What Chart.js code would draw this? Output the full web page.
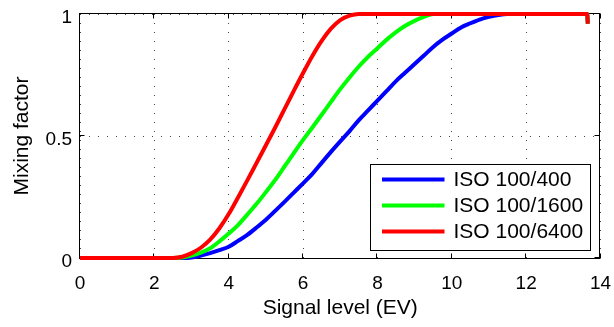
<!DOCTYPE html>
<html>
<head>
<meta charset="utf-8">
<script src="https://cdn.jsdelivr.net/npm/chart.js@4/dist/chart.umd.min.js"></script>
<style>
  html, body { margin: 0; padding: 0; background: #fff; }
  #wrap { width: 614px; height: 327px; }
</style>
</head>
<body>
<div id="wrap"><canvas id="c" width="614" height="327"></canvas></div>
<script>
// ---- data ----
const evLevels = [0, 2.5, 2.75, 3, 3.25, 3.5, 3.75, 4, 4.25, 4.5, 4.75, 5, 5.25, 5.5, 5.75, 6, 6.25, 6.5, 6.75, 7, 7.25, 7.5, 7.75, 8, 8.25, 8.5, 8.75, 9, 9.25, 9.5, 9.75, 10, 10.25, 10.5, 10.75, 11, 11.25, 11.5, 11.75, 13.64, 13.66];
const iso400 = [0, 0, 0, 0.002, 0.01, 0.02, 0.032, 0.046, 0.07, 0.095, 0.125, 0.157, 0.193, 0.23, 0.268, 0.306, 0.345, 0.39, 0.435, 0.478, 0.52, 0.565, 0.605, 0.645, 0.685, 0.725, 0.76, 0.795, 0.83, 0.865, 0.895, 0.92, 0.945, 0.962, 0.977, 0.988, 0.996, 1, 1, 1, 0.96];
const iso1600 = [0, 0, 0.002, 0.01, 0.022, 0.04, 0.068, 0.10, 0.135, 0.178, 0.222, 0.27, 0.32, 0.375, 0.43, 0.484, 0.535, 0.587, 0.64, 0.692, 0.74, 0.785, 0.825, 0.86, 0.895, 0.926, 0.952, 0.972, 0.988, 1, 1, 1, 1, 1, 1, 1, 1, 1, 1, 1, 0.96];
const iso6400 = [0, 0, 0.005, 0.02, 0.042, 0.075, 0.122, 0.18, 0.248, 0.318, 0.39, 0.462, 0.535, 0.61, 0.685, 0.758, 0.828, 0.89, 0.94, 0.975, 0.993, 1, 1, 1, 1, 1, 1, 1, 1, 1, 1, 1, 1, 1, 1, 1, 1, 1, 1, 1, 0.96];
const seriesLabels = ['ISO 100/400', 'ISO 100/1600', 'ISO 100/6400'];
const seriesColors = ['#0000ff', '#00ff00', '#ff0000'];
const xTicks = [0, 2, 4, 6, 8, 10, 12, 14];
const yTicks = [0, 0.5, 1];
const yTickLabels = ['0', '0.5', '1'];
const xTitle = 'Signal level (EV)';
const yTitle = 'Mixing factor';

const FONT = "'Liberation Sans', Arial, sans-serif";
const toPts = arr => arr.map((v, i) => ({ x: evLevels[i], y: v }));
const allSeries = [iso400, iso1600, iso6400];

const frame = {
  id: 'frame',
  beforeDatasetsDraw(chart) {
    const { ctx, chartArea: a, scales: { x, y } } = chart;
    const L = Math.floor(a.left) - 0.5, R = Math.floor(a.right) - 0.5;
    const T = Math.floor(a.top) - 0.5, B = Math.floor(a.bottom) + 0.5;
    ctx.save();
    ctx.strokeStyle = '#000';
    ctx.lineWidth = 1;
    ctx.strokeRect(L, T, R - L, B - T);
    const tl = 5;
    ctx.beginPath();
    xTicks.forEach(v => {
      const px = Math.round(x.getPixelForValue(v)) - 0.5;
      ctx.moveTo(px, B); ctx.lineTo(px, B - tl);
      ctx.moveTo(px, T); ctx.lineTo(px, T + tl);
    });
    yTicks.forEach(v => {
      const py = Math.round(y.getPixelForValue(v)) - 0.5;
      ctx.moveTo(L, py); ctx.lineTo(L + tl, py);
      ctx.moveTo(R, py); ctx.lineTo(R - tl, py);
    });
    ctx.stroke();
    ctx.restore();
  }
};

const legendBox = {
  id: 'legendBox',
  afterDatasetsDraw(chart) {
    const { ctx, chartArea: a } = chart;
    const w = 220, h = 86;
    const right = Math.floor(a.right) - 9.5;
    const bottom = Math.floor(a.bottom) - 7.5;
    const left = right - w, top = bottom - h;
    ctx.save();
    ctx.fillStyle = '#fff';
    ctx.fillRect(left, top, w, h);
    ctx.strokeStyle = '#000';
    ctx.lineWidth = 1;
    ctx.strokeRect(left, top, w, h);
    ctx.font = '21px ' + FONT;
    ctx.textBaseline = 'middle';
    ctx.textAlign = 'left';
    const rowH = 26;
    const firstY = top + 15;
    seriesLabels.forEach((lab, i) => {
      const yy = firstY + i * rowH;
      ctx.strokeStyle = seriesColors[i];
      ctx.lineWidth = 4;
      ctx.beginPath();
      ctx.moveTo(left + 11.5, yy);
      ctx.lineTo(left + 74, yy);
      ctx.stroke();
      ctx.fillStyle = '#000';
      ctx.fillText(lab, left + 83, yy + 1);
    });
    ctx.restore();
  }
};

new Chart(document.getElementById('c'), {
  type: 'line',
  data: {
    datasets: allSeries.map((s, i) => ({
      label: seriesLabels[i],
      data: toPts(s),
      borderColor: seriesColors[i],
      backgroundColor: seriesColors[i],
      borderWidth: 4,
      pointRadius: 0,
      cubicInterpolationMode: 'monotone',
      borderJoinStyle: 'round',
      clip: false,
      order: 2 - i
    }))
  },
  options: {
    responsive: false,
    animation: false,
    devicePixelRatio: 1,
    layout: { padding: { left: 0, right: 13.5, top: 14, bottom: 0 } },
    plugins: { legend: { display: false }, tooltip: { enabled: false } },
    scales: {
      x: {
        type: 'linear',
        min: 0, max: 14,
        afterBuildTicks: s => { s.ticks = xTicks.map(v => ({ value: v })); },
        afterFit: s => { s.height = 69; s.paddingLeft = 0; s.paddingRight = 0; },
        ticks: { color: '#000', font: { family: FONT, size: 19 }, padding: 14, maxRotation: 0 },
        grid: { color: '#444', lineWidth: 1, drawTicks: false },
        border: { display: false, dash: [1, 8] },
        title: { display: true, text: xTitle, color: '#000', font: { family: FONT, size: 21 }, padding: { top: 0, bottom: 6 } }
      },
      y: {
        type: 'linear',
        min: 0, max: 1,
        afterBuildTicks: s => { s.ticks = yTicks.map(v => ({ value: v })); },
        afterFit: s => { s.width = 80; s.paddingTop = 0; s.paddingBottom = 0; },
        ticks: { color: '#000', font: { family: FONT, size: 19 }, padding: 8, labelOffset: 4, callback: (v) => yTickLabels[yTicks.indexOf(v)] },
        grid: { color: '#444', lineWidth: 1, drawTicks: false },
        border: { display: false, dash: [1, 8] },
        title: { display: true, text: yTitle, color: '#000', font: { family: FONT, size: 21 }, padding: { top: 10, bottom: 0 } }
      }
    }
  },
  plugins: [frame, legendBox]
});
</script>
</body>
</html>
